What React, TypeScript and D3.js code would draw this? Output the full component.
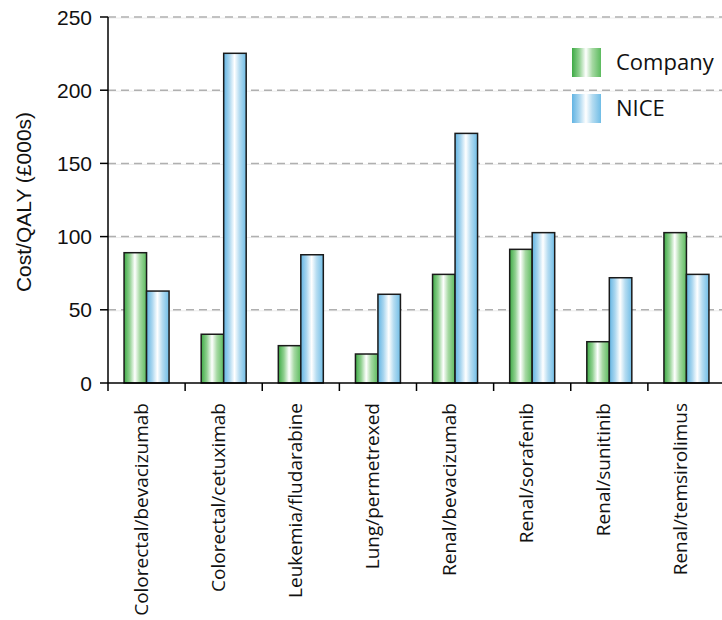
import React from "react";
import * as d3 from "d3";

const categories = [
  "Colorectal/bevacizumab",
  "Colorectal/cetuximab",
  "Leukemia/fludarabine",
  "Lung/permetrexed",
  "Renal/bevacizumab",
  "Renal/sorafenib",
  "Renal/sunitinib",
  "Renal/temsirolimus",
];
const seriesNames = ["Company", "NICE"];
const companyValues = [89, 33.3, 25.5, 19.8, 74.2, 91.3, 28.2, 102.7];
const niceValues = [62.8, 225.2, 87.6, 60.6, 170.5, 102.7, 71.9, 74.2];
const yTicks = [0, 50, 100, 150, 200, 250];
const yLabel = "Cost/QALY (£000s)";

const W = 722;
const H = 620;
const left = 108;
const right = 725;
const top = 17;
const bottom = 383;

export default function App() {
  const x0 = d3.scaleBand<string>().domain(categories).range([left, right]);
  const bw = x0.bandwidth();
  const x1 = d3
    .scaleBand<string>()
    .domain(seriesNames)
    .range([bw / 2 - 22.5, bw / 2 + 22.5]);
  const y = d3.scaleLinear().domain([0, 250]).range([bottom, top]);
  const series = [companyValues, niceValues];
  const fills = ["url(#gGreen)", "url(#gBlue)"];
  const sans = "'Liberation Sans', Arial, sans-serif";
  const myriad = "'Open Sans', 'Noto Sans', sans-serif";

  return (
    <svg
      width={W}
      height={H}
      style={{ position: "absolute", left: 0, top: 0, background: "#fff" }}
    >
      <defs>
        <linearGradient id="gGreen" x1="0" x2="1" y1="0" y2="0">
          <stop offset="0" stopColor="#3daa45" />
          <stop offset="0.25" stopColor="#8fd08f" />
          <stop offset="0.48" stopColor="#ffffff" />
          <stop offset="0.7" stopColor="#a6d9a3" />
          <stop offset="1" stopColor="#5cbb5e" />
        </linearGradient>
        <linearGradient id="gBlue" x1="0" x2="1" y1="0" y2="0">
          <stop offset="0" stopColor="#62b4e3" />
          <stop offset="0.25" stopColor="#a9d6ef" />
          <stop offset="0.48" stopColor="#ffffff" />
          <stop offset="0.7" stopColor="#b5dcf1" />
          <stop offset="1" stopColor="#70bde6" />
        </linearGradient>
      </defs>

      {/* grid */}
      {yTicks
        .filter((t) => t > 0)
        .map((t) => (
          <g key={"g" + t}>
            <line
              x1={left}
              x2={W}
              y1={y(t) + 1}
              y2={y(t) + 1}
              stroke="#ececec"
              strokeWidth={1}
            />
            <line
              x1={left}
              x2={W}
              y1={y(t)}
              y2={y(t)}
              stroke="#b0b0b0"
              strokeWidth={1.5}
              strokeDasharray="8,5"
            />
          </g>
        ))}

      {/* bars */}
      {categories.map((c, i) => (
        <g key={c} transform={`translate(${x0(c)},0)`}>
          {seriesNames.map((s, j) => {
            const v = series[j][i];
            return (
              <rect
                key={s}
                x={x1(s)}
                y={y(v)}
                width={x1.bandwidth()}
                height={y(0) - y(v)}
                fill={fills[j]}
                stroke="#1a1a1a"
                strokeWidth={1.5}
              />
            );
          })}
        </g>
      ))}

      {/* y axis */}
      <line x1={left} x2={left} y1={top} y2={bottom} stroke="#000" strokeWidth={1.5} />
      {yTicks.map((t) => (
        <g key={"t" + t}>
          <line x1={left - 8} x2={left} y1={y(t)} y2={y(t)} stroke="#000" strokeWidth={1.5} />
          <text
            x={92}
            y={y(t)}
            dy="0.36em"
            textAnchor="end"
            fontFamily={sans}
            fontSize={21}
            fill="#111"
          >
            {t}
          </text>
        </g>
      ))}
      <text
        transform={`translate(31,${(top + bottom) / 2 + 2}) rotate(-90)`}
        textAnchor="middle"
        fontFamily={sans}
        fontSize={21}
        fill="#111"
      >
        {yLabel}
      </text>

      {/* x axis */}
      <line x1={left} x2={W} y1={bottom} y2={bottom} stroke="#000" strokeWidth={1.5} />
      {categories.map((c) => (
        <line
          key={"xt" + c}
          x1={x0(c)!}
          x2={x0(c)!}
          y1={bottom}
          y2={bottom + 8}
          stroke="#000"
          strokeWidth={1.5}
        />
      ))}
      {categories.map((c) => (
        <text
          key={"xl" + c}
          transform={`translate(${x0(c)! + bw / 2 + 1},403) rotate(-90)`}
          textAnchor="end"
          fontFamily={myriad}
          fontSize={19}
          fill="#111"
        >
          {c}
        </text>
      ))}

      {/* legend */}
      {seriesNames.map((s, j) => (
        <g key={"lg" + s} transform={`translate(572,${48 + j * 46})`}>
          <rect x={0} y={0} width={29} height={29} fill={fills[j]} />
          <text x={44} y={22} fontFamily={myriad} fontSize={22} fill="#111">
            {s}
          </text>
        </g>
      ))}
    </svg>
  );
}
